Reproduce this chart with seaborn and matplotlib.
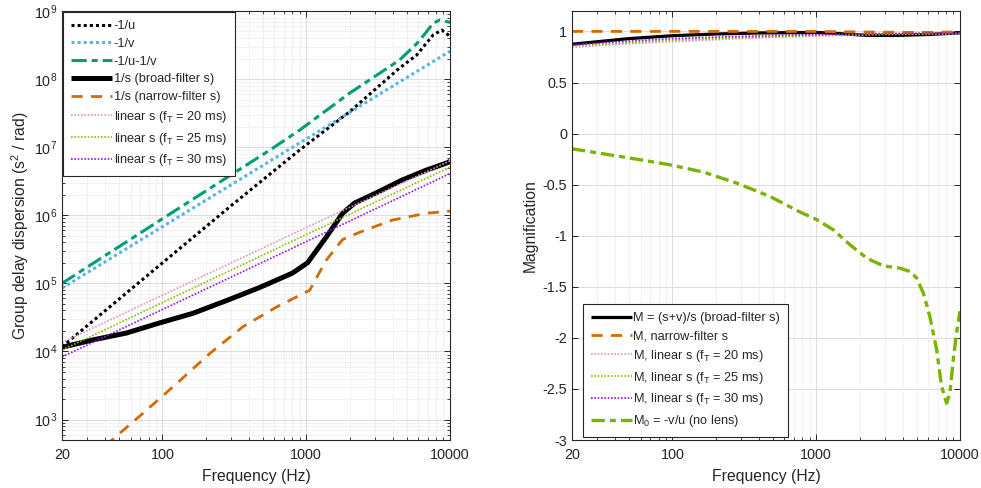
import numpy as np
import pandas as pd
import matplotlib
matplotlib.use("Agg")
import matplotlib.pyplot as plt
import matplotlib.ticker as mticker
import seaborn as sns

# ---------------- Left panel: group delay dispersion (s^2 / rad) ----------------
f_u = [20, 100, 300, 900, 2000, 4450, 5850, 7650, 8750, 9700, 10000]
gdd_u = [1.17e4, 2.0e5, 1.38e6, 9.1e6, 3.3e7, 1.45e8, 2.24e8, 4.47e8, 5.25e8, 4.47e8, 4.2e8]

f_v = [20, 100, 1000, 10000]
gdd_v = [8.5e4, 6.8e5, 1.32e7, 2.57e8]

f_uv = [20, 100, 560, 900, 2000, 4450, 5860, 6890, 7620, 8510, 9730, 10000]
gdd_uv = [1.0e5, 8.9e5, 9.1e6, 1.78e7, 6.2e7, 1.9e8, 3.3e8, 5.0e8, 6.6e8, 7.4e8, 6.9e8, 6.8e8]

f_sb = [20, 33, 56, 96, 163, 280, 475, 800, 1020, 1380, 1790, 2170, 3080, 4660, 6840, 9570, 10000]
gdd_sb = [1.15e4, 1.48e4, 1.86e4, 2.63e4, 3.63e4, 5.6e4, 8.7e4, 1.41e5, 2.0e5, 4.8e5,
          1.07e6, 1.51e6, 2.14e6, 3.3e6, 4.6e6, 5.9e6, 6.2e6]

f_sn = [20, 44.5, 73, 126, 213, 362, 622, 1055, 1380, 1790, 2340, 3980, 6840, 10000]
gdd_sn = [110, 500, 1.23e3, 3.4e3, 9.3e3, 2.3e4, 4.5e4, 7.9e4, 2.2e5, 4.4e5, 5.6e5, 8.5e5, 1.07e6, 1.15e6]

f_lin = [20, 1000, 10000]
gdd_lin20 = [1.35e4, 6.6e5, 6.3e6]
gdd_lin25 = [1.05e4, 5.2e5, 5.1e6]
gdd_lin30 = [8.3e3, 4.1e5, 4.1e6]

# ---------------- Right panel: magnification ----------------
f_mb = [20, 50, 100, 200, 400, 1000, 1400, 2200, 3500, 6000, 10000]
m_broad = [0.875, 0.93, 0.958, 0.975, 0.985, 0.99, 0.98, 0.962, 0.96, 0.97, 0.985]

f_mn = [20, 1000, 2000, 5000, 10000]
m_narrow = [1.0, 1.0, 0.995, 0.99, 0.995]

f_ml = [20, 50, 100, 300, 1000, 3000, 10000]
m_lin20 = [0.845, 0.88, 0.90, 0.93, 0.955, 0.97, 0.977]
m_lin25 = [0.858, 0.89, 0.915, 0.94, 0.962, 0.974, 0.982]
m_lin30 = [0.87, 0.905, 0.93, 0.952, 0.97, 0.98, 0.986]

f_m0 = [20, 33, 56, 96, 164, 280, 477, 771, 1000, 1315, 1718, 2244, 2930, 3830, 4490,
        5000, 5560, 6170, 6880, 7450, 8070, 8510, 8970, 9460, 10000]
m0 = [-0.149, -0.198, -0.25, -0.306, -0.377, -0.485, -0.616, -0.768, -0.84, -0.942, -1.089,
      -1.22, -1.295, -1.318, -1.35, -1.415, -1.562, -1.79, -2.117, -2.477, -2.64, -2.54,
      -2.215, -1.954, -1.74]

freq_ticks = [20, 100, 1000, 10000]
freq_ticklabels = ["20", "100", "1000", "10000"]
mag_ticks = [-3, -2.5, -2, -1.5, -1, -0.5, 0, 0.5, 1]
mag_ticklabels = ["-3", "-2.5", "-2", "-1.5", "-1", "-0.5", "0", "0.5", "1"]

# ---------------- Style ----------------
sns.set_style("ticks")
plt.rcParams["font.family"] = ["Liberation Sans", "DejaVu Sans"]
plt.rcParams["mathtext.fontset"] = "custom"
plt.rcParams["mathtext.rm"] = "Liberation Sans"
plt.rcParams["mathtext.it"] = "Liberation Sans"
plt.rcParams["mathtext.bf"] = "Liberation Sans:bold"

TXT = "#262626"
C_BLUE = "#56B4E9"
C_TEAL = "#009E73"
C_ORANGE = "#D56A00"
C_PINK = "#D898BC"
C_YG = "#88C000"
C_PURPLE = "#9A10E0"
C_M0 = "#78B400"

fig = plt.figure(figsize=(9.81, 4.88), dpi=100)
W, H = 981, 488
axL = fig.add_axes([62 / W, (H - 440) / H, 388 / W, 429 / H])
axR = fig.add_axes([572 / W, (H - 440) / H, 388 / W, 429 / H])


def draw(ax, x, y, color, lw, ls, label):
    sns.lineplot(x=x, y=y, ax=ax, color=color, linewidth=lw, linestyle=ls,
                 legend=False, sort=False, estimator=None)
    line = ax.get_lines()[-1]
    line.set_label(label)
    line.set_solid_capstyle("butt")
    line.set_dash_capstyle("butt")
    return line


dot = (0, (1, 1))
# ---- left ----
axL.set_xscale("log")
axL.set_yscale("log")
hL = []
hL.append(draw(axL, f_u, gdd_u, "black", 2.2, dot, "-1/u"))
hL.append(draw(axL, f_v, gdd_v, C_BLUE, 2.2, dot, "-1/v"))
hL.append(draw(axL, f_uv, gdd_uv, C_TEAL, 2.2, (0, (5, 1.6, 2, 1.6)), "-1/u-1/v"))
hL.append(draw(axL, f_sb, gdd_sb, "black", 3.6, "-", "1/s (broad-filter s)"))
hL.append(draw(axL, f_sn, gdd_sn, C_ORANGE, 2.0, (0, (4, 3)), "1/s (narrow-filter s)"))
hL.append(draw(axL, f_lin, gdd_lin20, C_PINK, 1.2, dot, "linear s (f$_\\mathregular{T}$ = 20 ms)"))
hL.append(draw(axL, f_lin, gdd_lin25, C_YG, 1.2, dot, "linear s (f$_\\mathregular{T}$ = 25 ms)"))
hL.append(draw(axL, f_lin, gdd_lin30, C_PURPLE, 1.2, dot, "linear s (f$_\\mathregular{T}$ = 30 ms)"))

axL.set_xlim(20, 10000)
axL.set_ylim(500, 1e9)
axL.yaxis.set_major_locator(mticker.LogLocator(base=10, numticks=20))
axL.yaxis.set_minor_locator(mticker.LogLocator(base=10, subs=np.arange(2, 10), numticks=50))
axL.yaxis.set_minor_formatter(mticker.NullFormatter())
axL.set_ylabel("Group delay dispersion (s$^\\mathregular{2}$ / rad)", fontsize=11.3, color=TXT,
               labelpad=2)

# ---- right ----
axR.set_xscale("log")
hR = []
hR.append(draw(axR, f_mb, m_broad, "black", 2.3, "-", "M = (s+v)/s (broad-filter s)"))
hR.append(draw(axR, f_mn, m_narrow, C_ORANGE, 2.0, (0, (4, 3)), "M, narrow-filter s"))
hR.append(draw(axR, f_ml, m_lin20, C_PINK, 1.2, dot, "M, linear s (f$_\\mathregular{T}$ = 20 ms)"))
hR.append(draw(axR, f_ml, m_lin25, C_YG, 1.2, dot, "M, linear s (f$_\\mathregular{T}$ = 25 ms)"))
hR.append(draw(axR, f_ml, m_lin30, C_PURPLE, 1.2, dot, "M, linear s (f$_\\mathregular{T}$ = 30 ms)"))
hR.append(draw(axR, f_m0, m0, C_M0, 2.4, (0, (4, 1.5, 1.8, 1.5)), "M$_\\mathregular{0}$ = -v/u (no lens)"))

axR.set_xlim(20, 10000)
axR.set_ylim(-3, 1.2)
axR.yaxis.set_major_locator(mticker.FixedLocator(mag_ticks))
axR.yaxis.set_major_formatter(mticker.FixedFormatter(mag_ticklabels))
axR.yaxis.set_minor_locator(mticker.NullLocator())
axR.set_ylabel("Magnification", fontsize=11.3, color=TXT, labelpad=3)

for ax in (axL, axR):
    ax.xaxis.set_major_locator(mticker.FixedLocator(freq_ticks))
    ax.xaxis.set_major_formatter(mticker.FixedFormatter(freq_ticklabels))
    ax.xaxis.set_minor_locator(mticker.LogLocator(base=10, subs=np.arange(2, 10), numticks=50))
    ax.xaxis.set_minor_formatter(mticker.NullFormatter())
    ax.set_xlabel("Frequency (Hz)", fontsize=11.3, color=TXT, labelpad=5)
    ax.grid(True, which="major", color="#DCDCDC", linewidth=0.7, linestyle="-")
    ax.grid(True, which="minor", color="#CFCFCF", linewidth=0.6, linestyle=(0, (1, 2.2)))
    ax.set_axisbelow(True)
    ax.tick_params(which="both", direction="in", top=True, right=True, colors=TXT,
                   labelsize=10.4, labelcolor=TXT)
    ax.tick_params(axis="x", which="major", pad=6)
    ax.tick_params(which="major", length=4, width=0.7)
    ax.tick_params(which="minor", length=2, width=0.6)
    for sp in ax.spines.values():
        sp.set_color(TXT)
        sp.set_linewidth(0.8)

legL = axL.legend(handles=hL, loc="upper left", bbox_to_anchor=(0.0, 1.0), borderaxespad=0.1,
                  fontsize=9.2, handlelength=3.2, handletextpad=0.12, labelspacing=0.45,
                  borderpad=0.62, fancybox=False, framealpha=1, edgecolor=TXT)
legL.get_frame().set_linewidth(0.8)
legR = axR.legend(handles=hR, loc="lower left", bbox_to_anchor=(11 / 388, 3 / 429), borderaxespad=0.0,
                  fontsize=9.2, handlelength=3.2, handletextpad=0.12, labelspacing=0.45,
                  borderpad=0.62, fancybox=False, framealpha=1, edgecolor=TXT)
legR.get_frame().set_linewidth(0.8)

fig.savefig("out.png", dpi=100)
